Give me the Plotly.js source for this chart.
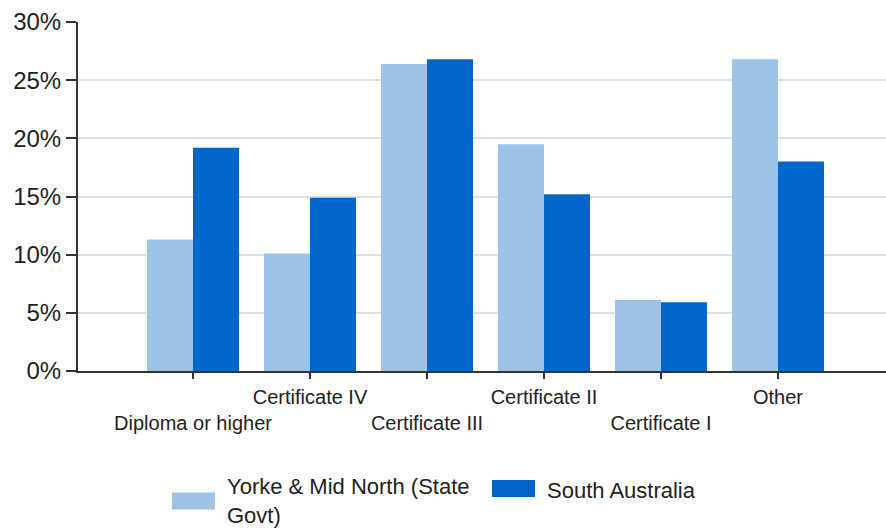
<!DOCTYPE html>
<html>
<head>
<meta charset="utf-8">
<script src="https://cdn.plot.ly/plotly-3.0.1.min.js"></script>
<style>
  body { margin: 0; }
  #plot { width: 886px; height: 528px; }
</style>
</head>
<body>
<div id="plot"></div>
<script>
// categories and values (percent)
var categories = ["Diploma or higher", "Certificate IV", "Certificate III",
  "Certificate II", "Certificate I", "Other"];
var yorkeValues = [11.3, 10.1, 26.4, 19.5, 6.1, 26.8];
var saValues = [19.2, 14.9, 26.8, 15.2, 5.9, 18.0];
var seriesNames = ["Yorke & Mid North (State<br>Govt)", "South Australia"];
var seriesColors = ["#9DC3E6", "#0066CC"];

// staggered tick labels: even ones go on the lower row
var tickText = categories.map(function(c, i) {
  return i % 2 === 0 ? "<br>" + c : c;
});

var yorke = {
  x: categories,
  y: yorkeValues,
  name: seriesNames[0],
  type: "bar",
  marker: { color: seriesColors[0] },
  showlegend: false
};
var sa = {
  x: categories,
  y: saValues,
  name: seriesNames[1],
  type: "bar",
  marker: { color: seriesColors[1] },
  showlegend: false
};
var data = [yorke, sa];

var layout = {
  width: 886,
  height: 528,
  margin: { l: 78, r: 0, t: 22, b: 157 },
  paper_bgcolor: "#fff",
  plot_bgcolor: "#fff",
  font: { family: "Liberation Sans, Arial, sans-serif", color: "#222" },
  barmode: "group",
  bargap: 0.214,
  bargroupgap: 0,
  xaxis: {
    type: "category",
    range: [-0.983, 5.923],
    tickmode: "array",
    tickvals: categories,
    ticktext: tickText,
    ticks: "outside",
    ticklen: 6,
    tickwidth: 2,
    tickcolor: "#333",
    ticklabelstandoff: 1,
    showline: true,
    linecolor: "#333",
    linewidth: 2,
    showgrid: false,
    tickfont: { size: 20 },
    tickangle: 0
  },
  yaxis: {
    range: [0, 30],
    dtick: 5,
    ticksuffix: "%",
    ticks: "outside",
    ticklen: 10,
    tickwidth: 2,
    tickcolor: "#333",
    showline: true,
    linecolor: "#333",
    linewidth: 2,
    gridcolor: "#e0e0e0",
    gridwidth: 2,
    zeroline: false,
    tickfont: { size: 24 }
  },
  shapes: [
    { type: "rect", xref: "paper", yref: "paper",
      x0: 0.1163, x1: 0.1696, y0: -0.3968, y1: -0.3481,
      fillcolor: seriesColors[0], line: { width: 0 } },
    { type: "rect", xref: "paper", yref: "paper",
      x0: 0.5124, x1: 0.5656, y0: -0.3610, y1: -0.3123,
      fillcolor: seriesColors[1], line: { width: 0 } }
  ],
  annotations: [
    { xref: "paper", yref: "paper", x: 0.1820, y: -0.3725,
      xanchor: "left", yanchor: "middle", align: "left", showarrow: false,
      text: seriesNames[0], font: { size: 22 } },
    { xref: "paper", yref: "paper", x: 0.5780, y: -0.341,
      xanchor: "left", yanchor: "middle", align: "left", showarrow: false,
      text: seriesNames[1], font: { size: 22 } }
  ]
};

Plotly.newPlot("plot", data, layout, { displayModeBar: false });
</script>
</body>
</html>
